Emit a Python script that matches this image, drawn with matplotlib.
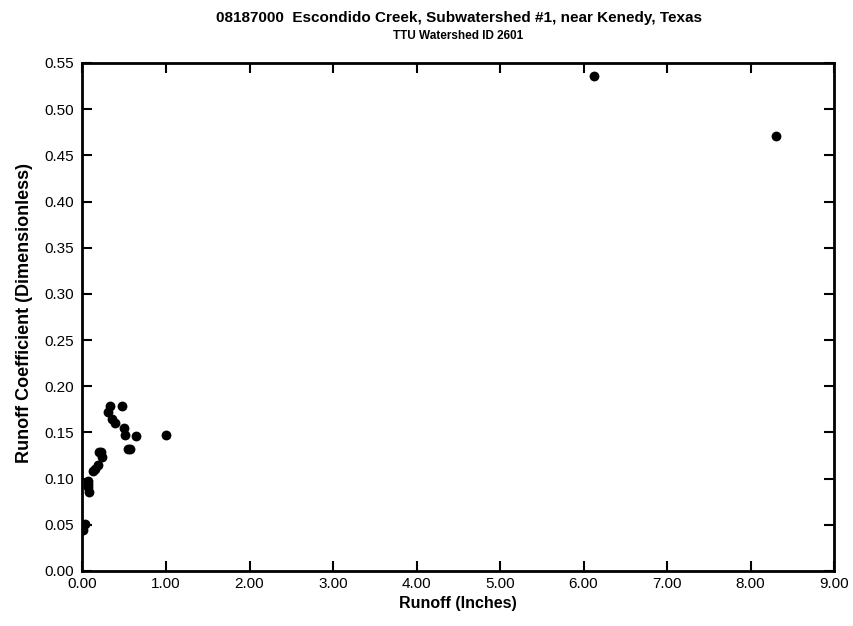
import matplotlib
matplotlib.use("Agg")
import matplotlib.pyplot as plt
from matplotlib.ticker import MultipleLocator, FormatStrFormatter

plt.rcParams['font.family'] = ['Liberation Sans', 'DejaVu Sans']

runoff = [0.01, 0.03, 0.07, 0.07, 0.08, 0.06, 0.13, 0.15, 0.18, 0.20, 0.22, 0.23,
          0.31, 0.33, 0.35, 0.39, 0.475, 0.495, 0.51, 0.545, 0.57, 0.645, 1.00,
          6.12, 8.30]
coef = [0.0446, 0.051, 0.097, 0.0914, 0.086, 0.094, 0.108, 0.1106, 0.115, 0.129, 0.129, 0.123,
        0.172, 0.179, 0.165, 0.160, 0.179, 0.1546, 0.147, 0.132, 0.132, 0.1466, 0.147,
        0.536, 0.471]

title = "08187000  Escondido Creek, Subwatershed #1, near Kenedy, Texas"
subtitle = "TTU Watershed ID 2601"
xlabel = "Runoff (Inches)"
ylabel = "Runoff Coefficient (Dimensionless)"

fig = plt.figure(figsize=(8.54, 6.26), dpi=100)
ax = fig.add_axes([0.0966, 0.0879, 0.88, 0.8115])
ax.scatter(runoff, coef, s=50, color='black', zorder=3, linewidths=0)
ax.set_xlim(0, 9)
ax.set_ylim(0, 0.55)
ax.xaxis.set_major_locator(MultipleLocator(1))
ax.yaxis.set_major_locator(MultipleLocator(0.05))
ax.xaxis.set_major_formatter(FormatStrFormatter('%.2f'))
ax.yaxis.set_major_formatter(FormatStrFormatter('%.2f'))
ax.tick_params(direction='in', length=7, width=1.5, top=True, right=True,
               labelsize=11)
ax.tick_params(axis='x', pad=4)
ax.tick_params(axis='y', pad=6)
for s in ax.spines.values():
    s.set_linewidth(2)
ax.set_xlabel(xlabel, fontsize=11.5, fontweight='bold', labelpad=4)
ax.set_ylabel(ylabel, fontsize=13, fontweight='bold')
ax.yaxis.set_label_coords(33 / 854, 0.5, transform=fig.transFigure)
fig.text(0.537, 0.972, title, ha='center', va='center', fontsize=11, fontweight='bold')
fig.text(0.537, 0.942, subtitle, ha='center', va='center', fontsize=8.5, fontweight='bold')
fig.savefig("out.png", dpi=100)
